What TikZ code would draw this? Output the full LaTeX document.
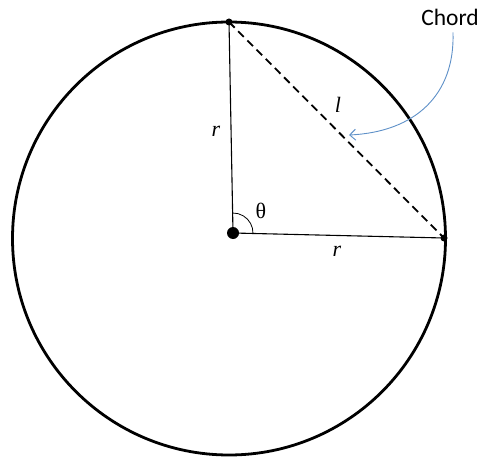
\documentclass[tikz,border=0pt]{standalone}
\usepackage{fontspec}
\setmainfont{Liberation Serif}
\newfontfamily\chordfont{Carlito}
\usetikzlibrary{arrows.meta,calc}
\definecolor{chordblue}{RGB}{95,145,200}
\tikzset{
  radius line/.style={line width=1.1pt},
  chord line/.style={line width=1.8pt, dash pattern=on 8pt off 5pt},
  mathlabel/.style={font=\fontsize{22}{24}\selectfont, inner sep=0pt},
}
\begin{document}
\begin{tikzpicture}[x=1pt,y=-1pt]
  \useasboundingbox (0,0) rectangle (481,457);
  % Circle
  \draw[line width=2.8pt] (229,238.5) circle[radius=216.5];
  % Points
  \coordinate (O) at (233,233);
  \coordinate (A) at (229,22);
  \coordinate (B) at (444,238);
  % Radii and chord
  \draw[radius line] (O) -- (A);
  \draw[radius line] (O) -- (B);
  \draw[chord line] (A) -- (B);
  \fill (O) circle[radius=6];
  \fill (A) circle[radius=3.5];
  \fill (B) circle[radius=3.5];
  % Angle
  \draw[line width=0.8pt] ($(O)!20pt!(B)$) arc[start angle=1.4, end angle=-91.1, radius=20];
  % Labels
  \node[mathlabel] (rtop) at (216,131) {\itshape r};
  \node[mathlabel] (rright) at (337,251) {\itshape r};
  \node[mathlabel] (len) at (338,105) {\itshape l};
  \node[mathlabel] (theta) at (261,211) {θ};
  \node[font=\chordfont\fontsize{23.5}{26}\selectfont, inner sep=1pt] (chord) at (450,17) {Chord};
  % Pointer
  \draw[chordblue, line width=0.9pt, -{Straight Barb[length=6pt, width=11pt]}]
    (chord.south) ++(3,6) .. controls (455,95) and (415,132) .. (349,135);
\end{tikzpicture}
\end{document}
